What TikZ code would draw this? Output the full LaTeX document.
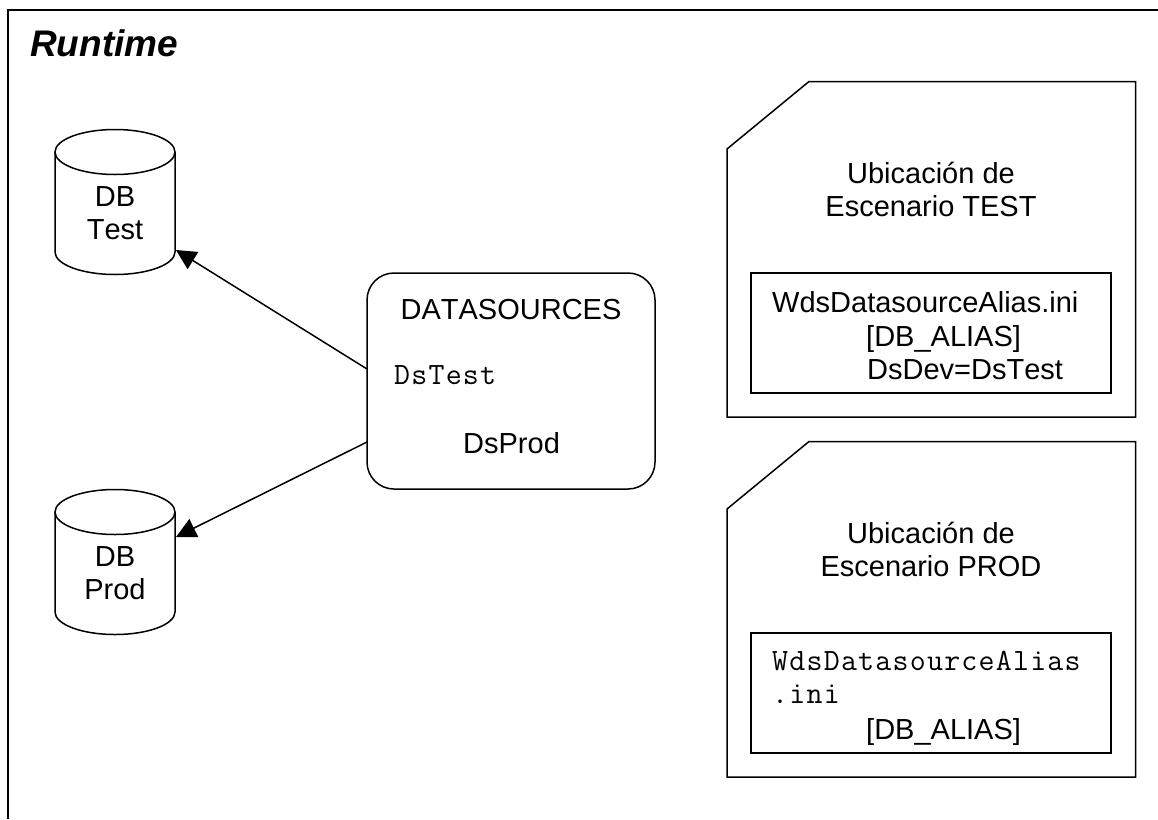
\documentclass[tikz,border=0pt]{standalone}
\usepackage{fontspec}
\setmainfont[Kerning=Off]{Liberation Sans}
\setmonofont[LetterSpace=4]{Latin Modern Mono}
\usetikzlibrary{arrows.meta}
\tikzset{
  label/.style={inner sep=0pt, font=\fontsize{29}{33.5}\selectfont, align=center},
  tag/.style={inner sep=0pt, anchor=base west, font=\fontsize{29}{33.5}\selectfont},
  monotag/.style={inner sep=0pt, anchor=base west, font=\fontsize{31}{33.5}\selectfont\ttfamily},
  box/.style={draw=black, line width=1.5pt, line join=miter},
  flow/.style={line width=1.5pt, -{Triangle[length=20pt,width=20pt]}}
}
\begin{document}
\begin{tikzpicture}[x=1pt, y=-1pt]
   \useasboundingbox (0,0) rectangle (1158,819);
   % outer frame
   \draw[line width=2pt] (7.5,819) -- (7.5,9.5) -- (1158,9.5);
   \node[inner sep=0pt, anchor=base west, font=\fontsize{37}{40}\selectfont\bfseries\itshape] (title) at (30,56) {Runtime};

   % databases
   \draw[box] (55,152) -- (55,252) arc[start angle=180, end angle=0, x radius=60, y radius=22.5] -- (175,152);
   \draw[box] (115,152) ellipse[x radius=60, y radius=22.5];
   \node[label] (dbtest) at (115,213) {DB\\Test};
   \coordinate (dbtesthead) at (176,250);

   \draw[box] (55,512) -- (55,612) arc[start angle=180, end angle=0, x radius=60, y radius=22.5] -- (175,512);
   \draw[box] (115,512) ellipse[x radius=60, y radius=22.5];
   \node[label] (dbprod) at (115,573) {DB\\Prod};
   \coordinate (dbprodhead) at (176,537);

   % datasources
   \draw[box, rounded corners=27pt] (367,273) rectangle (655,489);
   \coordinate (dsa) at (367,369);
   \coordinate (dsb) at (367,442);
   \node[label] (ds) at (511,310) {DATASOURCES};
   \node[monotag] (dstest) at (394,384) {DsTest};
   \node[tag] (dsprod) at (463,453) {DsProd};
   \draw[flow] (dsa) -- (dbtesthead);
   \draw[flow] (dsb) -- (dbprodhead);

   % test
   \draw[box] (727,149) -- (809,81.5) -- (1135.5,81.5) -- (1135.5,417) -- (727,417) -- cycle;
   \node[label] (testname) at (931,189.5) {Ubicación de\\Escenario TEST};
   \draw[box] (751,273) rectangle (1111,393);
   \node[tag] (testa) at (772,312) {WdsDatasourceAlias.ini};
   \node[tag] (testb) at (866,346) {[DB\_ALIAS]};
   \node[tag] (testc) at (867,379) {DsDev=DsTest};

   % prod
   \draw[box] (727,509) -- (809,441.5) -- (1135.5,441.5) -- (1135.5,777) -- (727,777) -- cycle;
   \node[label] (prodname) at (931,549.5) {Ubicación de\\Escenario PROD};
   \draw[box] (751,633) rectangle (1111,753);
   \node[monotag] (proda) at (772,670) {WdsDatasourceAlias};
   \node[monotag] (prodb) at (772,703) {.ini};
   \node[tag] (prodc) at (866,739) {[DB\_ALIAS]};
\end{tikzpicture}
\end{document}
